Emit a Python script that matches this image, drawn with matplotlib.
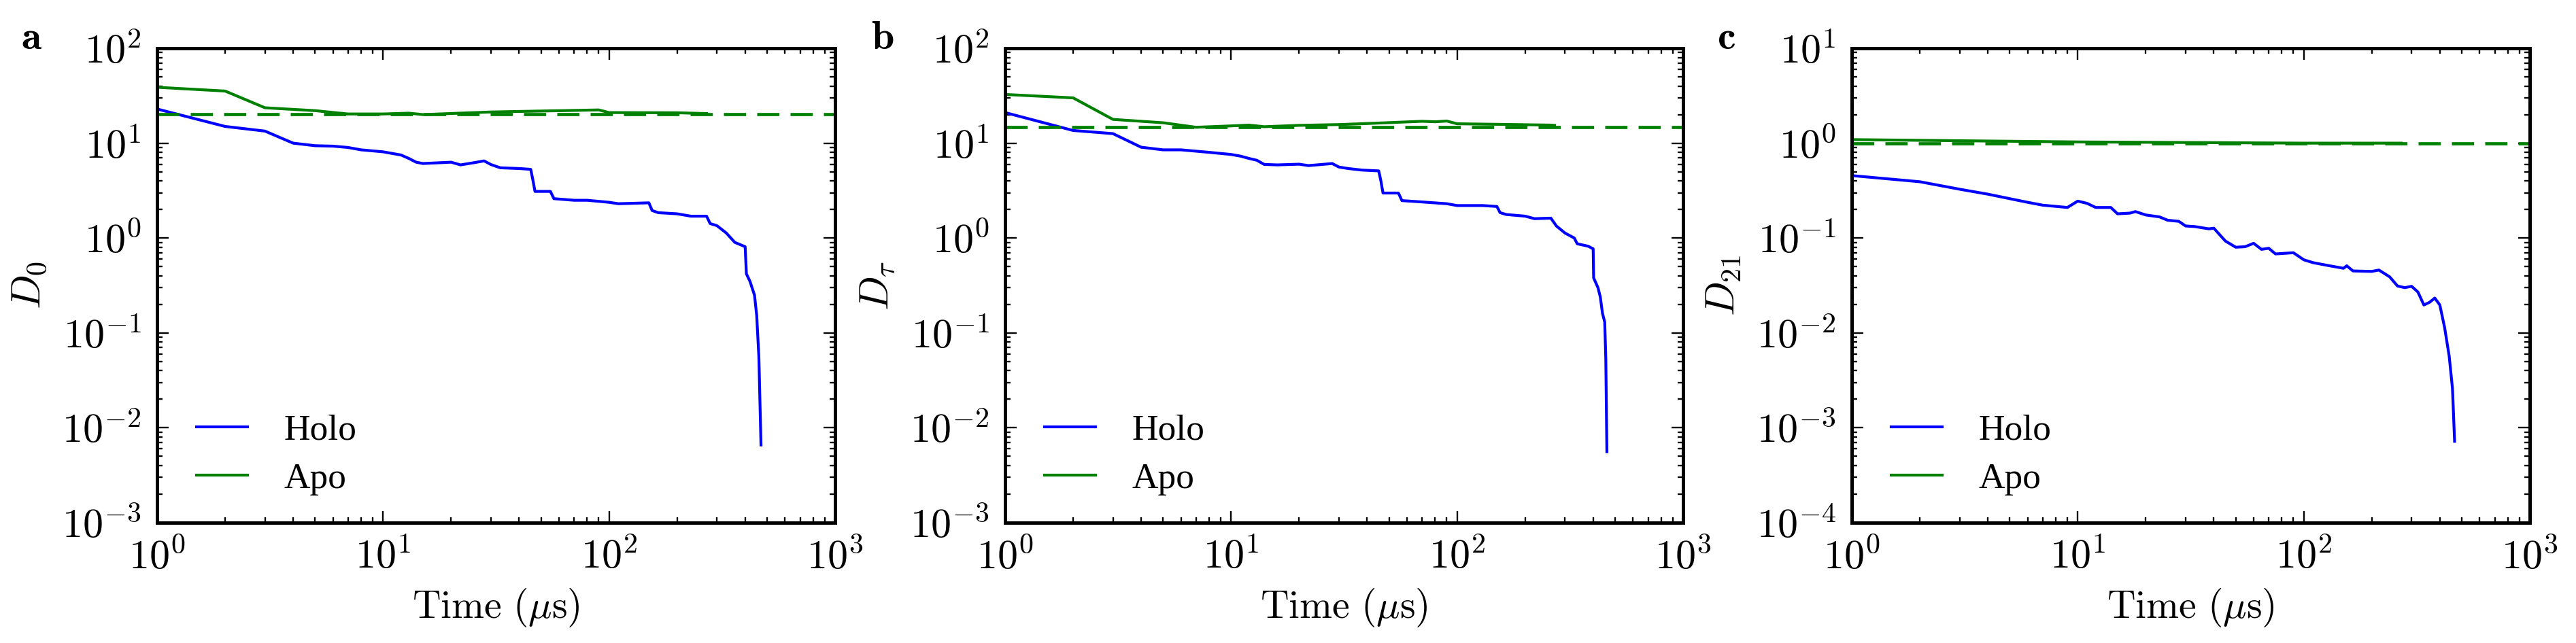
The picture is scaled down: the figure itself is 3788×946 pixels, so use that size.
import numpy as np
import matplotlib
matplotlib.use('Agg')
from matplotlib import pyplot as plt
from matplotlib.ticker import LogLocator, FuncFormatter, NullFormatter

# --- data (time in microseconds) ---
t_holo_a = [1, 2, 3, 4, 5, 6, 7, 8, 10, 12, 13, 14, 15, 20, 22, 25, 28, 30, 33, 40, 45, 46, 47, 55, 57, 70, 80, 100, 110, 150, 155, 165, 200, 230, 270, 280, 300, 330, 360, 400, 405, 420, 440, 450, 460, 470]
d0_holo = [22.9, 15.0, 13.4, 10.0, 9.4, 9.3, 9.0, 8.5, 8.1, 7.5, 6.9, 6.3, 6.1, 6.3, 5.9, 6.2, 6.5, 5.95, 5.5, 5.4, 5.3, 4.1, 3.1, 3.1, 2.6, 2.5, 2.5, 2.38, 2.3, 2.35, 1.95, 1.85, 1.8, 1.7, 1.7, 1.42, 1.35, 1.13, 0.9, 0.81, 0.42, 0.35, 0.25, 0.152, 0.056, 0.0066]
t_apo_a = [1, 2, 3, 5, 7, 10, 13, 15, 30, 50, 75, 90, 100, 200, 270]
d0_apo = [38.8, 35.4, 23.6, 22.0, 20.3, 20.3, 20.7, 20.0, 21.3, 21.8, 22.2, 22.4, 21.0, 20.9, 20.5]

t_holo_b = [1, 2, 3, 4, 5, 6, 8, 10, 11, 12, 13, 14, 16, 20, 22, 26, 28, 30, 33, 38, 45, 46, 47, 55, 57, 70, 90, 100, 130, 150, 155, 165, 200, 220, 260, 275, 300, 330, 340, 380, 400, 402, 420, 430, 440, 450, 455, 460]
dtau_holo = [21.0, 13.6, 12.6, 9.06, 8.5, 8.5, 8.0, 7.6, 7.3, 6.9, 6.6, 5.97, 5.9, 6.0, 5.8, 6.0, 6.1, 5.6, 5.4, 5.2, 5.1, 4.0, 2.98, 2.98, 2.48, 2.4, 2.3, 2.2, 2.2, 2.15, 1.85, 1.77, 1.7, 1.6, 1.62, 1.34, 1.13, 1.0, 0.87, 0.82, 0.77, 0.38, 0.3, 0.24, 0.16, 0.13, 0.053, 0.0056]
t_apo_b = [1, 2, 3, 5, 7, 10, 12, 14, 20, 30, 40, 70, 80, 90, 100, 150, 260, 270]
dtau_apo = [32.6, 30.0, 17.8, 16.4, 14.7, 15.2, 15.5, 14.9, 15.4, 15.7, 16.1, 17.0, 16.8, 17.1, 16.0, 15.8, 15.5, 15.4]

t_holo_c = [1, 2, 3, 4, 5, 6, 7, 9, 10, 11, 12, 14, 15, 17, 18, 20, 23, 25, 28, 30, 33, 38, 40, 45, 50, 55, 60, 65, 70, 75, 90, 100, 110, 130, 150, 155, 165, 200, 215, 240, 260, 280, 300, 320, 340, 360, 380, 400, 420, 440, 455, 465]
d21_holo = [0.455, 0.392, 0.327, 0.29, 0.26, 0.238, 0.222, 0.21, 0.245, 0.232, 0.21, 0.21, 0.18, 0.183, 0.19, 0.175, 0.167, 0.154, 0.15, 0.134, 0.132, 0.125, 0.127, 0.093, 0.08, 0.081, 0.088, 0.076, 0.078, 0.068, 0.07, 0.059, 0.055, 0.051, 0.048, 0.051, 0.045, 0.0445, 0.046, 0.039, 0.0312, 0.030, 0.031, 0.027, 0.0197, 0.021, 0.0233, 0.0197, 0.0114, 0.0057, 0.0026, 0.00072]
t_apo_c = [1, 3, 10, 100, 270]
d21_apo = [1.09, 1.06, 1.03, 1.0, 1.0]

ref_levels = [20.1, 14.7, 1.0]
ylabels = [r'$D_0$', r'$D_\tau$', r'$D_{21}$']
ylims = [(1e-3, 1e2), (1e-3, 1e2), (1e-4, 1e1)]
letters = ['a', 'b', 'c']

holo = [(t_holo_a, d0_holo), (t_holo_b, dtau_holo), (t_holo_c, d21_holo)]
apo = [(t_apo_a, d0_apo), (t_apo_b, dtau_apo), (t_apo_c, d21_apo)]

plt.rcParams['mathtext.fontset'] = 'cm'
plt.rcParams['font.family'] = 'serif'
plt.rcParams['font.serif'] = ['cmr10', 'DejaVu Serif']
plt.rcParams['axes.unicode_minus'] = False
plt.rcParams['axes.formatter.use_mathtext'] = True

W, H = 3788, 946
fig = plt.figure(figsize=(W/240.0, H/240.0), dpi=240)
lefts = [231, 1478, 2723]
letter_x = [31, 1281, 2525]

def dec_fmt(v, pos):
    return r'$10^{%d}$' % int(round(np.log10(v)))

for i in range(3):
    ax = fig.add_axes([lefts[i]/W, 1-769.0/H, 997.0/W, 698.0/H])
    ax.plot(holo[i][0], holo[i][1], color='b', lw=1.25, label='Holo')
    ax.plot(apo[i][0], apo[i][1], color='g', lw=1.25, label='Apo')
    ax.axhline(ref_levels[i], color='g', lw=1.4, ls='--', dashes=(7, 3.5))
    ax.set_xscale('log')
    ax.set_yscale('log')
    ax.set_xlim(1, 1000)
    ax.set_ylim(*ylims[i])
    for axis in [ax.xaxis, ax.yaxis]:
        axis.set_major_locator(LogLocator(base=10, numticks=20))
        axis.set_minor_locator(LogLocator(base=10, subs=np.arange(2, 10), numticks=20))
        axis.set_major_formatter(FuncFormatter(dec_fmt))
        axis.set_minor_formatter(NullFormatter())
    ax.tick_params(which='both', direction='in', top=True, right=True, width=0.7)
    ax.tick_params(which='major', length=5, labelsize=18, pad=7)
    ax.tick_params(which='minor', length=2.3)
    for s in ax.spines.values():
        s.set_linewidth(1.5)
    ax.set_xlabel(r'$\mathrm{Time\ (}\mu\mathrm{s)}$', fontsize=17.3, labelpad=4)
    ax.set_ylabel(ylabels[i], fontsize=18, labelpad=6)
    ax.legend(loc='lower left', bbox_to_anchor=(0.0371, 0.0272), frameon=False,
              prop={'family': 'Liberation Serif', 'size': 16},
              handlelength=1.4, handletextpad=1.0, labelspacing=0.425, borderaxespad=0, borderpad=0.4)
    fig.text(letter_x[i]/W, 1-72.0/H, r'$\mathbf{%s}$' % letters[i], fontsize=18, va='baseline', ha='left')

fig.savefig('out.png', dpi=240)
